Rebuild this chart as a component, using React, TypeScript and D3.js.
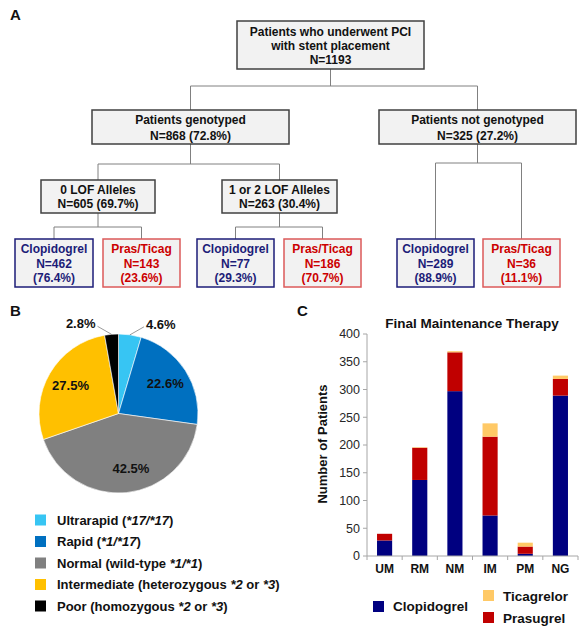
import React from "react";
import * as d3 from "d3";

const FONT = "'Liberation Sans', Arial, Helvetica, sans-serif";

// ---------- Panel A: flowchart data ----------
const flowIds = ["top", "gen", "notgen", "lof0", "lof12", "c1", "p1", "c2", "p2", "c3", "p3"];
const flowLines: string[][] = [
  ["Patients who underwent PCI", "with stent placement", "N=1193"],
  ["Patients genotyped", "N=868 (72.8%)"],
  ["Patients not genotyped", "N=325 (27.2%)"],
  ["0 LOF Alleles", "N=605 (69.7%)"],
  ["1 or 2 LOF Alleles", "N=263 (30.4%)"],
  ["Clopidogrel", "N=462", "(76.4%)"],
  ["Pras/Ticag", "N=143", "(23.6%)"],
  ["Clopidogrel", "N=77", "(29.3%)"],
  ["Pras/Ticag", "N=186", "(70.7%)"],
  ["Clopidogrel", "N=289", "(88.9%)"],
  ["Pras/Ticag", "N=36", "(11.1%)"],
];
const flowKinds = ["grey", "grey", "grey", "grey", "grey", "clop", "pras", "clop", "pras", "clop", "pras"];
const flowEdges: [string, string[]][] = [
  ["top", ["gen", "notgen"]],
  ["gen", ["lof0", "lof12"]],
  ["notgen", ["c3", "p3"]],
  ["lof0", ["c1", "p1"]],
  ["lof12", ["c2", "p2"]],
];

// layout (positions/sizes) kept apart from the data
const boxLayout: Record<string, { x: number; y: number; w: number; h: number; ls: number }> = {
  top: { x: 237, y: 21, w: 187, h: 48, ls: 14 },
  gen: { x: 92, y: 110, w: 197, h: 34, ls: 16 },
  notgen: { x: 379, y: 110, w: 197, h: 34, ls: 16 },
  lof0: { x: 41, y: 180, w: 114, h: 33, ls: 14 },
  lof12: { x: 222, y: 180, w: 115, h: 33, ls: 14 },
  c1: { x: 15, y: 239, w: 78, h: 48, ls: 14.5 },
  p1: { x: 103, y: 239, w: 77, h: 48, ls: 14.5 },
  c2: { x: 197, y: 239, w: 77, h: 48, ls: 14.5 },
  p2: { x: 284, y: 239, w: 77, h: 48, ls: 14.5 },
  c3: { x: 397, y: 239, w: 77, h: 48, ls: 14.5 },
  p3: { x: 483, y: 239, w: 77, h: 48, ls: 14.5 },
};
const edgeMidY: Record<string, number> = { top: 86, gen: 164, notgen: 163, lof0: 227, lof12: 227 };

const kindStyle: Record<string, { stroke: string; text: string }> = {
  grey: { stroke: "#404040", text: "#111111" },
  clop: { stroke: "#1c1c78", text: "#1c1c78" },
  pras: { stroke: "#dc5a5a", text: "#cc0000" },
};

// ---------- Panel B: pie data ----------
const phenotypeNames = ["Ultrarapid", "Rapid", "Normal", "Intermediate", "Poor"];
const phenotypePct = [4.6, 22.6, 42.5, 27.5, 2.8];
const phenotypeColors = ["#37c5f3", "#0070c0", "#808080", "#ffc000", "#000000"];
const phenotypeLegend: [string, string, string][] = [
  ["Ultrarapid (", "*17/*17", ")"],
  ["Rapid (", "*1/*17", ")"],
  ["Normal (wild-type ", "*1/*1", ")"],
  ["Intermediate (heterozygous ", "*2", " or *3)"],
  ["Poor (homozygous ", "*2", " or *3)"],
];

// ---------- Panel C: bar data ----------
const categories = ["UM", "RM", "NM", "IM", "PM", "NG"];
const clopidogrel = [28, 137, 297, 73, 4, 289];
const prasugrel = [12, 58, 70, 142, 13, 30];
const ticagrelor = [0, 1, 2, 24, 7, 6];
const drugNames = ["Clopidogrel", "Prasugrel", "Ticagrelor"];
const drugColors = ["#000080", "#c00000", "#ffc966"];
const yTicks = [0, 50, 100, 150, 200, 250, 300, 350, 400];

function Flowchart() {
  const connectors: JSX.Element[] = [];
  flowEdges.forEach(([p, kids]) => {
    const pb = boxLayout[p];
    const px = pb.x + pb.w / 2;
    const py = pb.y + pb.h;
    const my = edgeMidY[p];
    const kx = kids.map((k) => boxLayout[k].x + boxLayout[k].w / 2);
    const ky = boxLayout[kids[0]].y;
    const path = d3.path();
    path.moveTo(px, py);
    path.lineTo(px, my);
    path.moveTo(d3.min(kx)!, my);
    path.lineTo(d3.max(kx)!, my);
    kx.forEach((x) => {
      path.moveTo(x, my);
      path.lineTo(x, ky);
    });
    connectors.push(<path key={p} d={path.toString()} fill="none" stroke="#808080" strokeWidth={1} />);
  });
  return (
    <g>
      {connectors}
      {flowIds.map((id, i) => {
        const b = boxLayout[id];
        const st = kindStyle[flowKinds[i]];
        const lines = flowLines[i];
        const cy = b.y + b.h / 2 + 0.5;
        return (
          <g key={id}>
            <rect x={b.x} y={b.y} width={b.w} height={b.h} fill="#f2f2f2" stroke={st.stroke} strokeWidth={1.5} />
            {lines.map((t, j) => (
              <text
                key={j}
                x={b.x + b.w / 2}
                y={cy + (j - (lines.length - 1) / 2) * b.ls + 4.3}
                textAnchor="middle"
                fontSize={12}
                fontWeight="bold"
                fill={st.text}
              >
                {t}
              </text>
            ))}
          </g>
        );
      })}
    </g>
  );
}

function Pie() {
  const cx = 118.5;
  const cy = 413.5;
  const R = 79.5;
  const pie = d3.pie<number>().sort(null).value((d) => d)(phenotypePct);
  const arc = d3.arc<d3.PieArcDatum<number>>().innerRadius(0).outerRadius(R);
  const labelArc = d3.arc<d3.PieArcDatum<number>>().innerRadius(R * 0.7).outerRadius(R * 0.7);
  return (
    <g>
      <g transform={`translate(${cx},${cy})`}>
        {pie.map((p, i) => (
          <path key={i} d={arc(p)!} fill={phenotypeColors[i]} stroke="#ffffff" strokeWidth={0.6} />
        ))}
        {pie.map((p, i) => {
          const label = phenotypePct[i].toFixed(1) + "%";
          if (phenotypePct[i] < 10) {
            const a = (p.startAngle + p.endAngle) / 2;
            const x0 = Math.sin(a) * R;
            const y0 = -Math.cos(a) * R;
            const dir = Math.sin(a) >= 0 ? 1 : -1;
            const x1 = x0 + dir * 14;
            const y1 = y0 - 8;
            return (
              <g key={"l" + i}>
                <path d={`M${x0},${y0}L${x1},${y1}`} stroke="#808080" strokeWidth={0.8} fill="none" />
                <text
                  x={x1 + dir * 2}
                  y={y1 + 2}
                  textAnchor={dir > 0 ? "start" : "end"}
                  fontSize={13}
                  fontWeight="bold"
                  fill="#111"
                >
                  {label}
                </text>
              </g>
            );
          }
          const [lx, ly] = labelArc.centroid(p);
          return (
            <text
              key={"l" + i}
              x={lx + (i === 2 ? 7 : 0)}
              y={ly + 4.5}
              textAnchor="middle"
              fontSize={13}
              fontWeight="bold"
              fill="#111"
            >
              {label}
            </text>
          );
        })}
      </g>
      {phenotypeNames.map((n, i) => {
        const yc = 520 + i * 21.5;
        const [a, b, c] = phenotypeLegend[i];
        return (
          <g key={n}>
            <rect x={35} y={yc - 5.5} width={11} height={11} fill={phenotypeColors[i]} />
            <text x={57} y={yc + 4.7} fontSize={13} fontWeight="bold" fill="#111">
              <tspan>{a}</tspan>
              <tspan fontStyle="italic">{b}</tspan>
              {c.includes("*3") ? (
                <>
                  <tspan>{c.replace("*3)", "")}</tspan>
                  <tspan fontStyle="italic">*3</tspan>
                  <tspan>)</tspan>
                </>
              ) : (
                <tspan>{c}</tspan>
              )}
            </text>
          </g>
        );
      })}
    </g>
  );
}

function Bars() {
  const x = d3.scaleBand<string>().domain(categories).range([367, 578]).paddingInner(0.57).paddingOuter(0.285);
  const y = d3.scaleLinear().domain([0, 400]).range([556, 334]);
  const rows = categories.map((c, i) => ({
    cat: c,
    Clopidogrel: clopidogrel[i],
    Prasugrel: prasugrel[i],
    Ticagrelor: ticagrelor[i],
  }));
  const stack = d3.stack<any>().keys(drugNames)(rows);
  const step = x.step();
  const boundaries = d3.range(categories.length + 1).map((i) => 367 + i * step);
  return (
    <g>
      <text x={472} y={328} textAnchor="middle" fontSize={13.5} fontWeight="bold" fill="#111">
        Final Maintenance Therapy
      </text>
      <text
        transform={`translate(327,444) rotate(-90)`}
        textAnchor="middle"
        fontSize={13}
        fontWeight="bold"
        fill="#111"
      >
        Number of Patients
      </text>
      {stack.map((s, si) => (
        <g key={drugNames[si]} fill={drugColors[si]}>
          {s.map((d, i) => (
            <rect
              key={i}
              x={x(categories[i])}
              y={y(d[1])}
              width={x.bandwidth()}
              height={Math.max(0, y(d[0]) - y(d[1]))}
            />
          ))}
        </g>
      ))}
      <line x1={367} x2={367} y1={y(400)} y2={y(0)} stroke="#a6a6a6" strokeWidth={1} />
      {yTicks.map((t) => (
        <g key={t}>
          <line x1={363} x2={367} y1={y(t)} y2={y(t)} stroke="#a6a6a6" />
          <text x={360} y={y(t) + 4.3} textAnchor="end" fontSize={12.5} fill="#262626">
            {t}
          </text>
        </g>
      ))}
      <line x1={367} x2={578} y1={y(0)} y2={y(0)} stroke="#a6a6a6" strokeWidth={1} />
      {boundaries.map((b, i) => (
        <line key={i} x1={b} x2={b} y1={y(0)} y2={y(0) + 4} stroke="#a6a6a6" />
      ))}
      {categories.map((c) => (
        <text key={c} x={x(c)! + x.bandwidth() / 2} y={572.5} textAnchor="middle" fontSize={12} fontWeight="bold" fill="#111">
          {c}
        </text>
      ))}
      {/* legend */}
      <rect x={373} y={601} width={11} height={11} fill={drugColors[0]} />
      <text x={393} y={611} fontSize={13.5} fontWeight="bold" fill="#111">
        {drugNames[0]}
      </text>
      <rect x={483} y={590} width={11} height={11} fill={drugColors[2]} />
      <text x={503} y={600.5} fontSize={13.5} fontWeight="bold" fill="#111">
        {drugNames[2]}
      </text>
      <rect x={483} y={612} width={11} height={11} fill={drugColors[1]} />
      <text x={503} y={622.5} fontSize={13.5} fontWeight="bold" fill="#111">
        {drugNames[1]}
      </text>
    </g>
  );
}

export default function App() {
  return (
    <svg
      width={588}
      height={634}
      viewBox="0 0 588 634"
      style={{ position: "absolute", left: 0, top: 0, display: "block", background: "#ffffff" }}
      fontFamily={FONT}
    >
      <rect x={0} y={0} width={588} height={634} fill="#ffffff" />
      <text x={10} y={20} fontSize={15} fontWeight="bold" fill="#111">A</text>
      <text x={10} y={316} fontSize={15} fontWeight="bold" fill="#111">B</text>
      <text x={297} y={316} fontSize={15} fontWeight="bold" fill="#111">C</text>
      <Flowchart />
      <Pie />
      <Bars />
    </svg>
  );
}
